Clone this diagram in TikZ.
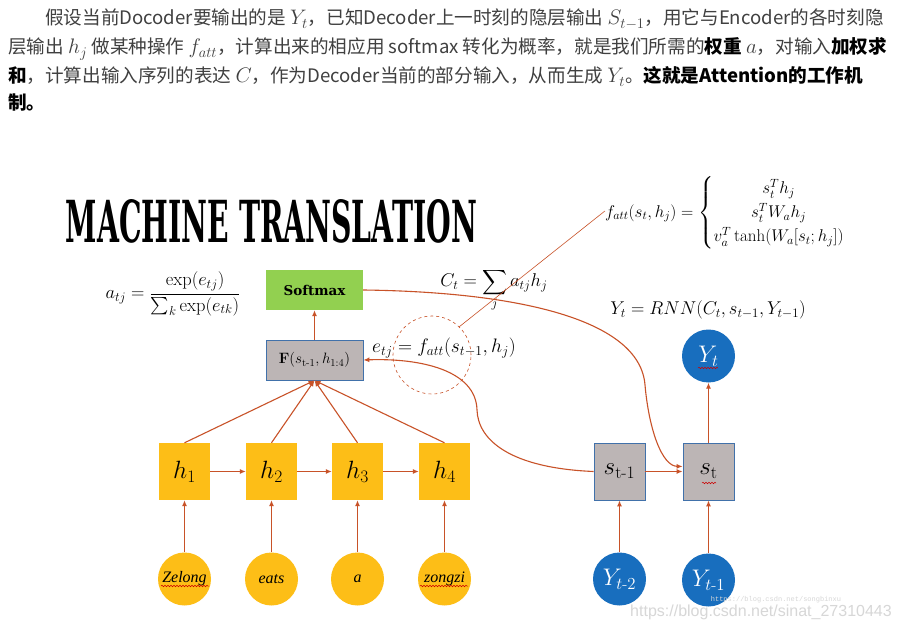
\RequirePackage{fix-cm}
\documentclass[tikz,border=0pt]{standalone}
\usepackage{amsmath}
\usepackage{fontspec}
\usetikzlibrary{arrows.meta,decorations.pathmorphing}
\newfontfamily\cjk{Noto Sans CJK SC}
\newfontfamily\titlefont{DejaVu Serif}
\newfontfamily\lserif{Liberation Serif}
\newfontfamily\wmfont{Liberation Sans}
\newfontfamily\wmmono{Liberation Mono}
\newcommand{\pmath}[1]{{\fontsize{21}{22}\selectfont$#1$}}
\definecolor{arr}{RGB}{200,82,40}
\definecolor{hyel}{RGB}{253,190,23}
\definecolor{sgray}{RGB}{188,181,181}
\definecolor{sblue}{RGB}{65,113,170}
\definecolor{yblue}{RGB}{24,110,190}
\definecolor{sgreen}{RGB}{146,208,80}
\definecolor{txt}{RGB}{64,64,64}
\definecolor{wm}{RGB}{215,215,215}
\tikzset{
  hbox/.style={fill=hyel, minimum width=51pt, minimum height=57pt, inner sep=0pt, font=\fontsize{25}{28}\selectfont},
  sbox/.style={fill=sgray, draw=sblue, line width=0.8pt, minimum width=51pt, minimum height=57pt, inner sep=0pt, font=\fontsize{25}{28}\selectfont},
  wcirc/.style={circle, fill=hyel, minimum size=53pt, inner sep=0pt, font=\lserif\itshape\fontsize{16}{18}\selectfont},
  ycirc/.style={circle, fill=yblue, minimum size=53pt, inner sep=0pt, text=white, font=\fontsize{24}{28}\selectfont},
  conn/.style={draw=arr, line width=1.1pt, -{Latex[length=6pt,width=5pt]}},
  para/.style={anchor=base west, inner sep=0pt, text=txt, font=\cjk\fontsize{18.6}{22}\selectfont},
  frm/.style={inner sep=1pt, font=\fontsize{18.5}{22}\selectfont},
  spell/.style={draw=red!80!black, line width=0.5pt, decorate, decoration={snake, amplitude=0.8pt, segment length=3pt}}
}
\begin{document}
\begin{tikzpicture}[x=1pt,y=-1pt]
\fill[white] (0,0) rectangle (900,631);
\useasboundingbox (0,0) rectangle (900,631);

% paragraph
\node[para] (p1) at (45,25) {假设当前Docoder要输出的是 \pmath{Y_t}，已知Decoder上一时刻的隐层输出 \pmath{S_{t-1}}，用它与Encoder的各时刻隐};
\node[para] (p2) at (8,54) {层输出 \pmath{h_j} 做某种操作 \pmath{f_{att}}，计算出来的相应用 softmax 转化为概率，就是我们所需的\textcolor{black}{\bfseries 权重} \pmath{a}，对输入\textcolor{black}{\bfseries 加权求}};
\node[para] (p3) at (8,83) {\textcolor{black}{\bfseries 和}，计算出输入序列的表达 \pmath{C}，作为Decoder当前的部分输入，从而生成 \pmath{Y_t}。\textcolor{black}{\bfseries 这就是Attention的工作机}};
\node[para] (p4) at (8,110) {\textcolor{black}{\bfseries 制。}};

% title
\node[inner sep=0pt] (title) at (271.5,221.5) {\resizebox{411pt}{43pt}{\titlefont\bfseries MACHINE TRANSLATION}};

% formulas
\node[frm] (atj) at (173,294) {$a_{tj} = \dfrac{\exp(e_{tj})}{\sum_k \exp(e_{tk})}$};
\node[frm] (ct) at (494,290) {$C_t = \displaystyle\sum_j a_{tj} h_j$};
\node[frm, font=\fontsize{19.5}{22}\selectfont] (etj) at (444,348) {$e_{tj} = f_{att}(s_{t-1}, h_j)$};
\node[frm] (rnn) at (708,310) {$Y_t = RNN(C_t, s_{t-1}, Y_{t-1})$};
\node[frm, font=\fontsize{17}{20}\selectfont] (fatt) at (725,213) {\renewcommand{\arraystretch}{1.2}$f_{att}(s_t,h_j) = \left\{\begin{array}{@{}c@{}} s_t^T h_j\\ s_t^T W_a h_j\\ v_a^T \tanh(W_a[s_t;h_j])\end{array}\right.$};

% boxes
\node[fill=sgreen, minimum width=97pt, minimum height=40pt, inner sep=0pt, font=\titlefont\bfseries\fontsize{13.5}{16}\selectfont] (soft) at (314.5,290) {Softmax};
\node[fill=sgray, draw=sblue, line width=0.8pt, minimum width=97pt, minimum height=40pt, inner sep=0pt, font=\fontsize{15}{18}\selectfont] (F) at (314.5,360) {\textbf{F}$(s_{\mathrm{t\text{-}1}},h_{1:4})$};

\node[hbox] (h1) at (184.5,471.5) {$h_1$};
\node[hbox] (h2) at (271.5,471.5) {$h_2$};
\node[hbox] (h3) at (357.5,471.5) {$h_3$};
\node[hbox] (h4) at (444.5,471.5) {$h_4$};

\node[sbox] (stm1) at (619.5,471.5) {$s_{\mathrm{t\text{-}1}}$};
\node[sbox] (st) at (708.5,471.5) {$s_{\mathrm{t}}$};

\node[wcirc] (w1) at (184.5,579) {Zelong};
\node[wcirc] (w2) at (271.5,579) {eats};
\node[wcirc] (w3) at (357.5,579) {a};
\node[wcirc] (w4) at (444.5,579) {zongzi};

\node[ycirc] (ytm2) at (619.5,579) {$Y_{t\text{-}2}$};
\node[ycirc] (ytm1) at (708.5,580) {$Y_{t\text{-}1}$};
\node[ycirc] (yt) at (708.5,356) {$Y_t$};

% dashed circle and pointer line
\node[circle, draw=arr, dashed, line width=0.6pt, minimum size=78pt, inner sep=0pt] (dc) at (432,355) {};
\draw[draw=arr, line width=0.6pt] (dc.46) -- ([xshift=1pt,yshift=2pt]fatt.west);

% connectors
\draw[conn] (w1) -- (h1);
\draw[conn] (w2) -- (h2);
\draw[conn] (w3) -- (h3);
\draw[conn] (w4) -- (h4);
\draw[conn] (h1) -- (h2);
\draw[conn] (h2) -- (h3);
\draw[conn] (h3) -- (h4);
\draw[conn] (h1.north) -- (F.south);
\draw[conn] (h2.north) -- (F.south);
\draw[conn] (h3.north) -- (F.south);
\draw[conn] (h4.north) -- (F.south);
\draw[conn] (F) -- (soft);
\draw[conn] (ytm2) -- (stm1);
\draw[conn] (ytm1) -- (st);
\draw[conn] (stm1) -- (st);
\draw[conn] (st) -- (yt);
\draw[conn] (soft.east) .. controls (520,292) and (640,320) .. (645,385) .. controls (649,430) and (662,466) .. ([yshift=5pt]st.west);
\draw[conn] (stm1.west) .. controls (510,468) and (478,440) .. (477,410) .. controls (476,370) and (420,358) .. (F.east);

% spell-check underlines
\draw[spell] (161,586) -- (209,586);
\draw[spell] (420,586) -- (468,586);
\draw[spell] (698,368) -- (718,368);
\draw[spell] (702,483) -- (716,483);

% watermarks
\node[text=wm, font=\wmmono\fontsize{7}{8}\selectfont, inner sep=0pt] (wm2) at (776,600) {https://blog.csdn.net/songbinxu};
\node[text=wm, font=\wmfont\fontsize{16}{18}\selectfont, inner sep=0pt] (wm1) at (761,612) {https://blog.csdn.net/sinat\_27310443};
\end{tikzpicture}
\end{document}
